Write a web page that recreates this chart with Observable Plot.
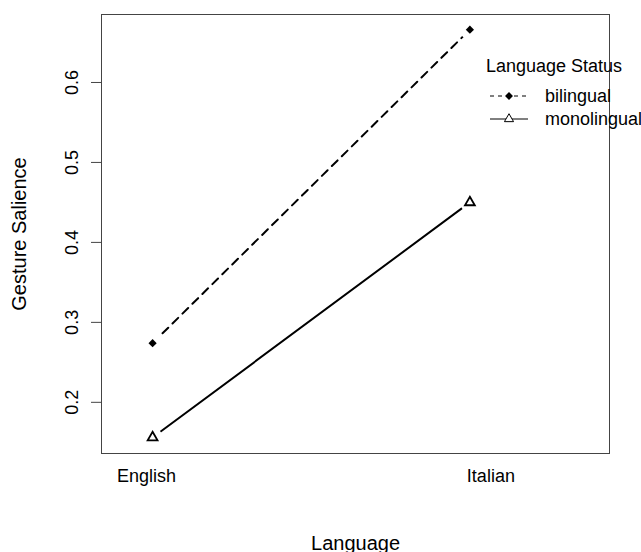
<!DOCTYPE html>
<html>
<head>
<meta charset="utf-8">
<script src="https://cdn.jsdelivr.net/npm/d3@7"></script>
<script src="https://cdn.jsdelivr.net/npm/@observablehq/plot@0.6"></script>
<style>
  html, body { margin: 0; padding: 0; background: #fff; }
  #wrap { position: relative; width: 641px; height: 552px; font-family: "Liberation Sans", Arial, sans-serif; }
  #legend { position: absolute; left: 0; top: 0; }
</style>
</head>
<body>
<div id="wrap"></div>
<script>
const languages = ["English", "Italian"];
const statuses = ["bilingual", "monolingual"];
const bilingual = [0.274, 0.666];
const monolingual = [0.156, 0.45];
const yTicks = [0.2, 0.3, 0.4, 0.5, 0.6];
const xTitle = "Language";
const yTitle = "Gesture Salience";
const legendTitle = "Language Status";

const rows = [];
languages.forEach((lang, i) => {
  rows.push({lang, pos: i + 1, status: "bilingual", value: bilingual[i]});
  rows.push({lang, pos: i + 1, status: "monolingual", value: monolingual[i]});
});
const bil = rows.filter(d => d.status === "bilingual");
const mono = rows.filter(d => d.status === "monolingual");

const font = "Liberation Sans, Arial, sans-serif";
const chart = Plot.plot({
  width: 641,
  height: 552,
  marginLeft: 101,
  marginRight: 32,
  marginTop: 14,
  marginBottom: 99,
  style: {fontFamily: font, fontSize: "18px", background: "#fff", color: "#000"},
  x: {type: "linear", domain: [0.839, 2.44], axis: null},
  y: {type: "linear", domain: [0.136, 0.685], axis: null},
  marks: [
    Plot.frame({stroke: "#444", strokeWidth: 1}),
    Plot.axisY({ticks: yTicks, tickSize: 10, tickFormat: () => "", stroke: "#444", label: null}),
    Plot.text(yTicks, {y: d => d, text: d => String(d), frameAnchor: "left", rotate: -90, dx: -24, lineAnchor: "bottom", textAnchor: "middle", fill: "#000", fontSize: 18}),
    Plot.text([yTitle], {text: d => d, frameAnchor: "left", rotate: -90, dx: -82, textAnchor: "middle", fill: "#000", fontSize: 20}),
    Plot.text([languages[0]], {x: () => 1, text: d => d, frameAnchor: "bottom", dy: 28, dx: -6, fill: "#000", fontSize: 18}),
    Plot.text([languages[1]], {x: () => 2, text: d => d, frameAnchor: "bottom", dy: 28, dx: 21, fill: "#000", fontSize: 18}),
    Plot.text([xTitle], {text: d => d, frameAnchor: "bottom", dy: 96, fill: "#000", fontSize: 20}),
    Plot.line(bil, {x: "pos", y: "value", stroke: "#000", strokeWidth: 2, strokeDasharray: "8,6"}),
    Plot.line(mono, {x: "pos", y: "value", stroke: "#000", strokeWidth: 2}),
    Plot.dot(rows, {x: "pos", y: "value", r: 10, fill: "#fff", stroke: "none"}),
    Plot.dot(bil, {x: "pos", y: "value", symbol: "diamond2", r: 3.7, fill: "#000", stroke: "none"}),
    Plot.dot(mono, {x: "pos", y: "value", symbol: "triangle2", r: 4.7, stroke: "#000", strokeWidth: 1.8, fill: "none"})
  ]
});
const wrap = document.getElementById("wrap");
wrap.appendChild(chart);

// Legend overlay
const lg = d3.create("svg").attr("id", "legend").attr("width", 641).attr("height", 552)
  .style("font-family", font).style("font-size", "18px");
lg.append("text").attr("x", 486).attr("y", 72).text(legendTitle).attr("fill", "#000");
const entries = [
  {label: statuses[0], y: 96, dash: "4,4", sym: "diamond"},
  {label: statuses[1], y: 119, dash: null, sym: "triangle"}
];
entries.forEach(e => {
  const ln = lg.append("line").attr("x1", 490).attr("x2", 528).attr("y1", e.y).attr("y2", e.y)
    .attr("stroke", "#000").attr("stroke-width", 1);
  if (e.dash) ln.attr("stroke-dasharray", e.dash);
  if (e.sym === "diamond") {
    lg.append("path").attr("d", d3.symbol(d3.symbolDiamond2, 40)()).attr("transform", `translate(509,${e.y})`).attr("fill", "#000");
  } else {
    lg.append("path").attr("d", d3.symbol(d3.symbolTriangle2, 60)()).attr("transform", `translate(509,${e.y})`)
      .attr("fill", "#fff").attr("stroke", "#000").attr("stroke-width", 1);
  }
  lg.append("text").attr("x", 545).attr("y", e.y + 6).text(e.label).attr("fill", "#000");
});
wrap.appendChild(lg.node());
</script>
</body>
</html>
